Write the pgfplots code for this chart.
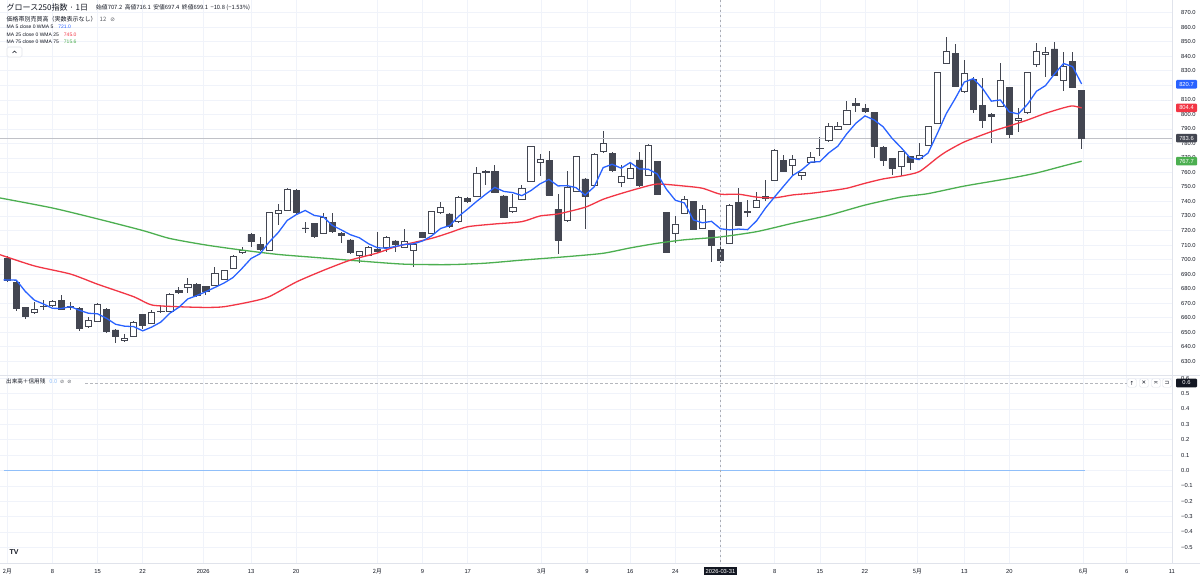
\documentclass[border=0pt]{standalone}
\usepackage{fontspec}
\setmainfont{Liberation Sans}
\newfontfamily\jp{Noto Sans CJK JP}
\newfontfamily\dv{DejaVu Sans}
\usepackage{pgfplots}
\pgfplotsset{compat=1.18}
\usepackage{pgfplotstable}
\definecolor{candle}{HTML}{434651}
\definecolor{gridc}{HTML}{F0F3FA}
\definecolor{maB}{HTML}{2962FF}
\definecolor{maR}{HTML}{F23645}
\definecolor{maG}{HTML}{4CAF50}
\definecolor{txt}{HTML}{131722}
\definecolor{sep}{HTML}{E0E3EB}
\definecolor{zeroc}{HTML}{90BFF9}
\definecolor{cross}{HTML}{9598A1}

\pgfplotstableread{
i o h l c
1 701.0 702.5 684.5 685.9
2 684.5 686.0 664.5 666.4
3 666.9 667.5 658.8 661.1
4 663.4 671.0 662.5 665.7
5 667.5 672.1 665.3 667.8
6 668.2 672.0 667.0 671.0
7 671.7 675.6 665.3 665.9
8 667.3 671.0 665.3 667.7
9 666.4 667.0 651.0 652.6
10 653.8 660.7 653.0 657.9
11 657.7 669.8 657.0 669.1
12 665.7 666.5 649.5 650.3
13 651.5 652.5 642.3 647.3
14 644.6 648.5 643.4 645.7
15 647.3 657.7 646.5 656.5
16 662.0 662.8 651.9 654.5
17 656.1 665.3 655.5 663.4
18 664.0 668.7 663.4 664.3
19 664.6 677.0 664.0 676.3
20 679.0 680.9 676.5 677.2
21 680.6 687.1 676.7 683.1
22 682.9 683.5 674.5 675.1
23 681.3 682.0 675.6 677.9
24 682.5 695.1 682.0 690.5
25 686.6 693.0 686.0 692.3
26 694.0 702.8 693.5 702.0
27 704.7 708.9 704.0 706.6
28 717.4 718.0 708.8 712.3
29 710.5 715.7 705.8 706.8
30 706.6 733.0 705.9 732.5
31 731.9 738.2 723.8 734.1
32 734.1 749.5 733.5 748.6
33 747.4 748.5 731.5 732.3
34 721.8 726.1 718.1 721.3
35 724.9 725.5 715.0 715.8
36 718.1 731.8 717.5 729.1
37 725.4 731.8 718.5 719.2
38 718.1 718.8 711.2 716.7
39 713.5 714.0 704.0 704.7
40 703.1 706.0 697.8 705.4
41 703.1 709.0 702.5 708.4
42 707.2 719.2 704.8 705.4
43 708.4 716.0 705.4 715.3
44 712.8 713.5 705.4 710.5
45 708.4 720.8 707.8 712.3
46 706.6 711.5 695.1 710.7
47 718.5 719.0 714.5 715.1
48 718.1 733.6 717.5 733.0
49 732.3 739.9 731.8 735.7
50 731.4 732.0 722.0 722.6
51 726.1 743.5 725.5 742.8
52 742.1 742.8 739.2 739.9
53 743.8 764.0 743.2 759.4
54 760.8 761.5 751.3 760.2
55 760.5 765.1 745.5 746.1
56 743.8 744.5 728.5 729.1
57 733.0 744.9 732.5 735.7
58 741.5 751.3 741.0 749.0
59 754.1 778.5 753.5 777.7
60 766.9 772.7 757.5 769.0
61 768.1 775.0 744.0 744.5
62 734.6 744.9 703.6 713.5
63 726.8 761.0 726.2 749.7
64 747.2 771.5 746.6 770.9
65 755.5 756.0 721.0 743.3
66 751.3 773.3 750.7 772.7
67 774.3 788.5 773.7 780.0
68 773.2 773.8 760.6 761.2
69 753.0 765.1 750.2 757.1
70 755.9 766.3 755.3 762.8
71 768.6 774.3 750.3 750.9
72 758.2 779.5 757.6 778.9
73 767.4 768.0 744.3 744.9
74 732.3 732.9 704.4 705.0
75 718.1 730.0 711.6 724.5
76 731.8 743.8 731.2 741.5
77 739.8 740.4 720.2 720.8
78 721.5 737.5 720.9 734.6
79 719.9 720.5 698.5 710.0
80 707.2 716.1 697.4 699.1
81 711.2 738.1 710.6 737.5
82 739.2 749.5 723.2 723.8
83 733.3 741.0 729.5 732.8
84 735.9 746.3 735.3 740.5
85 742.0 754.8 740.5 743.5
86 754.8 776.0 754.2 775.4
87 768.5 772.0 760.4 761.0
88 765.1 772.0 757.5 769.1
89 758.2 760.4 754.8 759.8
90 766.9 774.3 766.3 770.4
91 776.3 784.1 771.3 776.9
92 781.9 794.2 781.3 791.5
93 789.8 794.9 789.2 791.8
94 793.3 809.4 792.7 803.0
95 807.6 811.0 801.8 806.2
96 804.1 807.1 801.2 801.8
97 801.1 801.7 769.7 778.2
98 777.3 777.9 764.4 768.5
99 769.5 770.1 758.2 762.8
100 763.9 774.9 757.5 774.3
101 770.9 771.5 761.7 766.7
102 769.7 780.0 769.1 771.6
103 778.9 792.1 778.3 791.5
104 793.8 829.5 793.2 828.9
105 835.1 853.5 834.5 843.2
106 842.0 848.4 818.5 819.1
107 815.6 837.4 815.0 828.2
108 824.3 826.0 800.7 803.7
109 806.0 824.8 790.4 796.1
110 800.2 800.8 780.0 798.4
111 805.8 835.1 805.2 823.2
112 818.4 819.0 783.5 786.5
113 796.1 804.1 788.1 797.3
114 801.2 829.5 800.6 828.9
115 834.4 848.9 832.8 843.6
116 841.6 846.1 825.9 842.5
117 845.0 849.6 826.5 827.1
118 823.7 843.2 816.3 832.8
119 836.7 843.2 818.0 818.6
120 816.3 816.9 775.9 783.6
}\candles

\pgfplotstableread{
i v
0.6 686.0
2 685.8
3 678.0
4 672.0
5 669.4
6 666.4
7 666.3
8 667.6
9 665.0
10 663.0
11 662.6
12 659.5
13 655.4
14 654.1
15 653.8
16 650.9
17 653.5
18 656.9
19 663.0
20 667.1
21 672.9
22 675.2
23 677.9
24 680.8
25 683.8
26 687.6
27 693.9
28 700.7
29 704.0
30 712.0
31 718.5
32 726.9
33 730.9
34 733.8
35 730.4
36 729.4
37 723.5
38 720.4
39 717.1
40 715.0
41 710.9
42 708.1
43 707.8
44 709.0
45 710.4
46 710.8
47 712.8
48 716.3
49 721.4
50 723.4
51 729.8
52 734.8
53 740.1
54 745.0
55 749.7
56 746.9
57 746.1
58 744.0
59 747.5
60 752.1
61 755.2
62 750.7
63 750.9
64 749.5
65 744.4
66 750.0
67 763.3
68 765.6
69 762.9
70 766.8
71 762.4
72 762.2
73 758.9
74 748.5
75 740.8
76 739.0
77 727.3
78 725.3
79 726.3
80 721.2
81 720.4
82 721.0
83 720.6
84 726.7
85 735.6
86 743.2
87 750.6
88 757.9
89 761.8
90 767.1
91 767.4
92 773.5
93 778.1
94 786.7
95 793.9
96 798.9
97 796.2
98 791.5
99 783.5
100 777.1
101 770.1
102 768.8
103 773.4
104 786.6
105 800.4
106 810.9
107 822.2
108 824.6
109 818.1
110 809.1
111 809.9
112 801.6
113 800.3
114 806.9
115 815.9
116 819.8
117 827.9
118 835.0
119 832.9
120 820.9
}\maFive

\pgfplotstableread{
i v
0.2 703.3
4 695.6
8 690.0
11 683.0
15 674.4
17 668.7
20 667.5
23 667.0
25 667.5
28 671.0
30 674.4
33 684.5
36 692.5
39 699.6
42 704.5
44 708.8
48 714.6
50 718.5
52 722.6
55 724.5
58 726.1
60 730.0
62 731.4
65 736.0
67 741.5
69 745.5
71 749.1
73 752.0
76 750.6
78 749.1
80 745.0
82 745.0
84 743.0
86 742.5
88 744.5
90 745.6
92 747.2
94 749.1
96 752.5
98 755.5
100 757.5
102 760.5
104 770.0
105 774.3
107 781.0
110 788.1
112 792.0
114 796.1
116 800.7
118 804.5
119 805.8
120 804.4
}\maTwentyFive

\pgfplotstableread{
i v
0.2 742.4
6 735.5
11 728.0
16 720.0
19 714.5
23 710.0
27 706.5
31 703.5
35 701.5
40 699.0
45 696.8
50 696.5
54 697.5
58 699.6
63 702.0
67 704.3
70 708.0
73 711.2
76 713.6
80 715.6
84 719.2
88 725.0
92 730.5
96 737.5
100 743.0
103 745.4
107 750.6
112 755.9
115 759.6
118 764.5
120 767.7
}\maSeventyFive

\pgfplotsset{
  /pgf/number format/assume math mode=true,
  tvbase/.style={scale only axis, width=1172bp, xmin=0.1914, xmax=130.01,
    axis line style={draw=none}, tick style={draw=none}},
  pricebase/.style={at={(0bp,204bp)}, anchor=south west, height=375bp,
    ymin=620.48, ymax=878.75},
  tvxt/.style={xtick={1,6,11,16,22.7,28,33,42,47,52,60.2,65.2,70,75,80,86,91,96,101.8,107,112,120.2,125,130}},
}
\newcommand{\fs}[1]{\fontsize{#1bp}{#1bp}\selectfont}

\begin{document}
\begin{tikzpicture}
\path[use as bounding box] (0,0) rectangle (1200bp,579bp);
\fill[white] (0,0) rectangle (1200bp,579bp);

% price pane: grid, wicks
\begin{axis}[tvbase, pricebase, tvxt, xticklabels={},
  ytick={630,640,...,870},
  yticklabel pos=right,
  yticklabel={\pgfmathprintnumber[fixed,fixed zerofill,precision=1]{\tick}},
  yticklabel style={anchor=west, inner sep=0pt, xshift=9bp, font=\fs{5.8}, text=txt},
  grid=major, major grid style={draw=gridc, line width=0.6bp}]
\addplot[draw=none, mark=none, forget plot,
  error bars/.cd, y dir=both, y explicit, error mark=none,
  error bar style={draw=candle, line width=0.9bp, solid}]
  table[x=i, y=o, y error plus expr={\thisrow{h}-\thisrow{o}}, y error minus expr={\thisrow{o}-\thisrow{l}}] \candles;
\addplot[cross!60, line width=0.5bp, mark=none] coordinates {(0.1914,783.6) (130.01,783.6)};
\end{axis}

% candle bodies
\begin{axis}[tvbase, pricebase, hide axis, ybar stacked, bar width=6.2bp]
\addplot[draw=none, fill=none] table[x=i, y expr={min(\thisrow{o},\thisrow{c})}] \candles;
\addplot[fill=white, draw=candle, line width=0.7bp] table[x=i, y expr={max(\thisrow{c}-\thisrow{o},0)}] \candles;
\addplot[fill=candle, draw=candle, line width=0.7bp] table[x=i, y expr={max(\thisrow{o}-\thisrow{c},0)}] \candles;
\end{axis}

% moving averages
\begin{axis}[tvbase, pricebase, hide axis]
\addplot[maG, line width=1.3bp, mark=none, smooth, tension=0.4] table[x=i, y=v] \maSeventyFive;
\addplot[maR, line width=1.3bp, mark=none, smooth, tension=0.4] table[x=i, y=v] \maTwentyFive;
\addplot[maB, line width=1.3bp, mark=none] table[x=i, y=v] \maFive;
\end{axis}

% lower pane
\begin{axis}[tvbase, tvxt, at={(0bp,16bp)}, anchor=south west, height=188bp,
  ymin=-0.602, ymax=0.621,
  xticklabels={{\jp 2月},8,15,22,2026,13,20,{\jp 2月},9,17,{\jp 3月},9,16,24,
    {\setlength{\fboxsep}{2bp}\colorbox{txt}{\textcolor{white}{2026-03-31}}},
    8,15,22,{\jp 5月},13,20,{\jp 6月},6,11},
  xticklabel style={anchor=base, yshift=-10bp, inner sep=0pt, font=\fs{5.8}, text=txt},
  ytick={-0.5,-0.4,-0.3,-0.2,-0.1,0,0.1,0.2,0.3,0.4,0.5,0.6},
  yticklabels={−0.5,−0.4,−0.3,−0.2,−0.1,0.0,0.1,0.2,0.3,0.4,0.5,0.6},
  yticklabel pos=right,
  yticklabel style={anchor=west, inner sep=0pt, xshift=9bp, font=\fs{5.8}, text=txt},
  grid=major, major grid style={draw=gridc, line width=0.6bp}]
\addplot[zeroc, line width=0.8bp, mark=none] coordinates {(0.6,0) (120.4,0)};
\end{axis}

% separators
\draw[sep, line width=0.7bp] (0,204bp) -- (1200bp,204bp);
\draw[sep, line width=0.7bp] (0,16bp) -- (1200bp,16bp);
\draw[sep, line width=0.6bp] (1172bp,16bp) -- (1172bp,579bp);

% crosshair
\draw[cross!80, line width=0.5bp, dash pattern=on 2.5bp off 2.5bp] (720.5bp,579bp) -- (720.5bp,17bp);
\draw[cross!70, line width=0.5bp, dash pattern=on 2.5bp off 2.5bp] (85bp,196bp) -- (1127bp,196bp);

% price scale boxes
\tikzset{pbox/.style={anchor=center, minimum width=21bp, minimum height=8.6bp, inner sep=0pt,
  rounded corners=1bp, text=white, font=\fs{5.8}}}
\node[pbox, fill=maB] at (1186.5bp,494.7bp) {820.7};
\node[pbox, fill=maR] at (1186.5bp,471.1bp) {804.4};
\node[pbox, fill=candle] at (1186.5bp,440.9bp) {783.6};
\node[pbox, fill=maG] at (1186.5bp,417.8bp) {767.7};
\node[pbox, fill=txt] at (1186.5bp,196bp) {0.6};

% buttons lower pane
\tikzset{btn/.style={draw=sep, fill=white, rounded corners=1.5bp, minimum width=9bp, minimum height=8.5bp, inner sep=0pt, font=\dv\fs{5.5}, text=txt}}
\node[btn] at (1132bp,196bp) {↑};
\node[btn] at (1144bp,196bp) {✕};
\node[btn] at (1156bp,196bp) {≍};
\node[btn] at (1167bp,196bp) {⊐};

% header texts
\node[anchor=west, inner sep=0pt, text=txt, font=\jp\fs{8}] at (6.5bp,571.5bp) {グロース250指数 · 1日};
\node[anchor=west, inner sep=0pt, text=txt, font=\jp\fs{5.8}] at (96bp,571.5bp)
  {始値707.2\hspace{2.5bp}高値716.1\hspace{2.5bp}安値697.4\hspace{2.5bp}終値699.1\hspace{2.5bp}−10.8 (−1.53\%)};
\node[anchor=west, inner sep=0pt, text=txt, font=\jp\fs{6}] at (6.5bp,560bp)
  {価格帯別売買高（実数表示なし）\hspace{3bp}{\color{txt!70}12}\hspace{4bp}{\dv\fs{5.5}\color{txt!70}⊘}};
\node[anchor=west, inner sep=0pt, text=txt, font=\fs{5}] at (6.5bp,552.3bp)
  {MA 5 close 0 WMA 5\hspace{5bp}\textcolor{maB}{721.0}};
\node[anchor=west, inner sep=0pt, text=txt, font=\fs{5}] at (6.5bp,544.7bp)
  {MA 25 close 0 WMA 25\hspace{5bp}\textcolor{maR}{745.0}};
\node[anchor=west, inner sep=0pt, text=txt, font=\fs{5}] at (6.5bp,537.3bp)
  {MA 75 close 0 WMA 75\hspace{5bp}\textcolor{maG}{715.6}};
\draw[sep, fill=white, rounded corners=1.5bp, line width=0.6bp] (7bp,522bp) rectangle (22bp,532bp);
\draw[txt, line width=0.6bp] (12.5bp,526bp) -- (14.5bp,528bp) -- (16.5bp,526bp);

\node[anchor=west, inner sep=0pt, text=txt, font=\jp\fs{5.6}] at (6bp,198bp)
  {出来高＋信用残\hspace{4bp}\textcolor{zeroc}{0.0}\hspace{3bp}{\dv\fs{5}\color{txt!70}⊘}\hspace{3bp}{\dv\fs{5}\color{txt!70}⊘}};

% logo
\node[anchor=center, inner sep=0pt, text=txt, font=\bfseries\fs{7}] at (14bp,27bp) {TV};
\end{tikzpicture}
\end{document}
